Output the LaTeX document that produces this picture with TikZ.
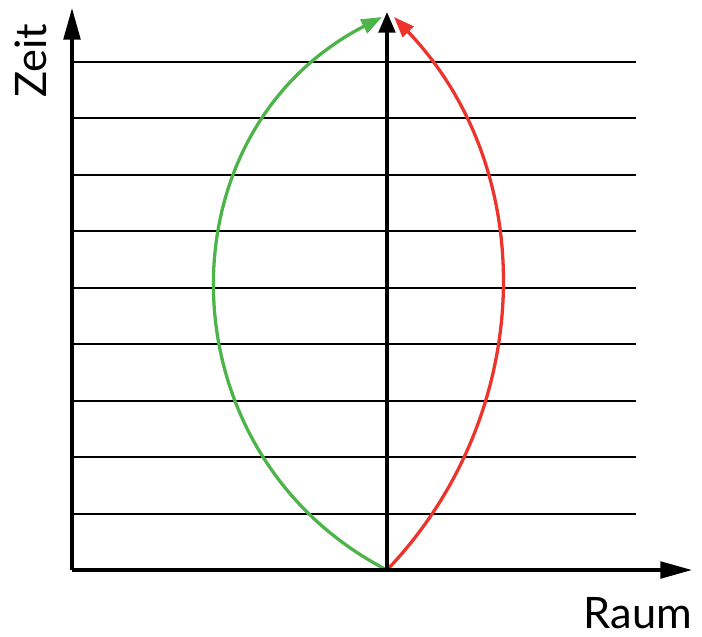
\documentclass[tikz,border=0pt]{standalone}
\usepackage{fontspec}
\setmainfont{Lato}
\usetikzlibrary{arrows.meta}
\definecolor{PathGreen}{RGB}{76,180,72}
\definecolor{PathRed}{RGB}{236,52,44}
\begin{document}
\begin{tikzpicture}[x=0.03cm,y=-0.03cm,
      axis/.style={line width=2.9pt,-{Triangle[length=0.95cm,width=0.5cm]}},
      midline/.style={line width=2.9pt,-{Triangle[length=0.62cm,width=0.5cm]}},
      grid/.style={line width=1.7pt},
      worldline/.style={line width=2.8pt,-{Triangle[length=0.62cm,width=0.45cm]}},
      lbl/.style={font=\fontsize{37}{42}\selectfont}]
    \useasboundingbox (0,0) rectangle (702,636);
    \coordinate (O) at (72,570);
    \coordinate (Ytip) at (72,8);
    \coordinate (Xtip) at (692,570);
    \coordinate (S) at (387,570);
    \coordinate (T) at (387,12);
    \coordinate (G) at (382,17);
    \coordinate (R) at (394,17);
    % time slices
    \foreach \k in {1,...,9}
      \draw[grid] (72,{570-56.44*\k}) -- (636,{570-56.44*\k});
    % world lines
    \draw[worldline,draw=PathGreen] (S) .. controls (162,454) and (157,133) .. (G);
    \draw[worldline,draw=PathRed] (S) .. controls (535,415) and (542,172) .. (R);
    \draw[midline] (S) -- (T);
    \draw[axis] (O) -- (Ytip);
    \draw[axis] (O) -- (Xtip);
    \node[lbl] (raum) at (638,613) {Raum};
    \node[lbl,rotate=90] (zeit) at (31,61) {Zeit};
  \end{tikzpicture}
\end{document}
